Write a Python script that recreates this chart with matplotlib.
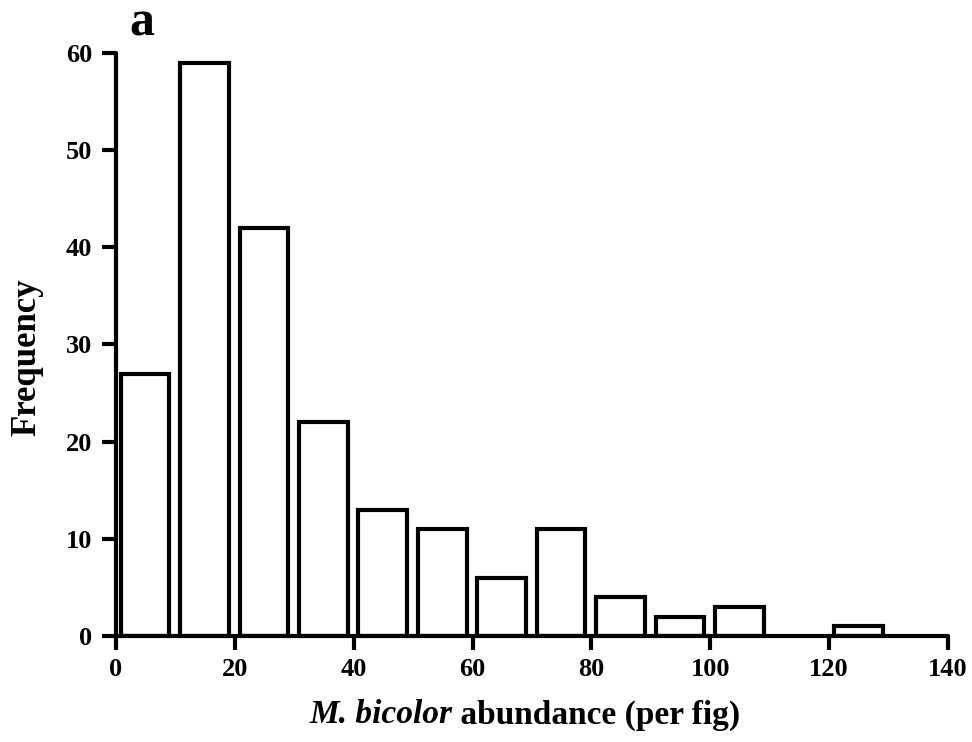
import matplotlib
matplotlib.use("Agg")
import matplotlib.pyplot as plt
import numpy as np
from matplotlib.offsetbox import TextArea, HPacker, AnchoredOffsetbox

plt.rcParams['font.family'] = ['Liberation Serif', 'DejaVu Serif']
plt.rcParams['font.weight'] = 'bold'

bin_starts = [0, 10, 20, 30, 40, 50, 60, 70, 80, 90, 100, 110, 120]
frequency = [27, 59, 42, 22, 13, 11, 6, 11, 4, 2, 3, 0, 1]
x_ticks = [0, 20, 40, 60, 80, 100, 120, 140]
y_ticks = [0, 10, 20, 30, 40, 50, 60]

fig = plt.figure(figsize=(9.72, 7.42), dpi=100)
ax = fig.add_axes([0.1193, 0.1429, 0.9753 - 0.1193, 0.9286 - 0.1429])

lw = 3.0
lefts = np.array(bin_starts) + 0.8
for l, h in zip(lefts, frequency):
    if h > 0:
        ax.bar(l, h, width=8.2, align='edge', facecolor='white', edgecolor='black',
               linewidth=lw, zorder=2)

ax.set_xlim(0, 140)
ax.set_ylim(0, 60)
ax.set_xticks(x_ticks)
ax.set_yticks(y_ticks)
for s in ['top', 'right']:
    ax.spines[s].set_visible(False)
for s in ['left', 'bottom']:
    ax.spines[s].set_linewidth(lw)
    ax.spines[s].set_capstyle('round')
ax.tick_params(width=lw, length=10, labelsize=19)
ax.tick_params(axis='y', pad=7)
ax.tick_params(axis='x', pad=6)
for lab in ax.get_xticklabels() + ax.get_yticklabels():
    lab.set_fontweight('bold')

t1 = TextArea('M. bicolor', textprops=dict(fontsize=24, fontweight='bold', style='italic', family=['Liberation Serif']))
t2 = TextArea(' abundance (per fig)', textprops=dict(fontsize=24, fontweight='bold', family=['Liberation Serif']))
box = HPacker(children=[t1, t2], align='baseline', pad=0, sep=0)
ab = AnchoredOffsetbox(loc='center', child=box, pad=0, frameon=False,
                       bbox_to_anchor=(0.54, 1 - 715/742), bbox_transform=fig.transFigure, borderpad=0)
fig.add_artist(ab)

fig.text(27/972, 1 - 357/742, 'Frequency', fontsize=25, fontweight='bold', rotation=90,
         ha='center', va='center')
fig.text(142/972, 1 - 36/742, 'a', fontsize=36, fontweight='bold', ha='center', va='baseline')

fig.savefig('out.png', dpi=100)
